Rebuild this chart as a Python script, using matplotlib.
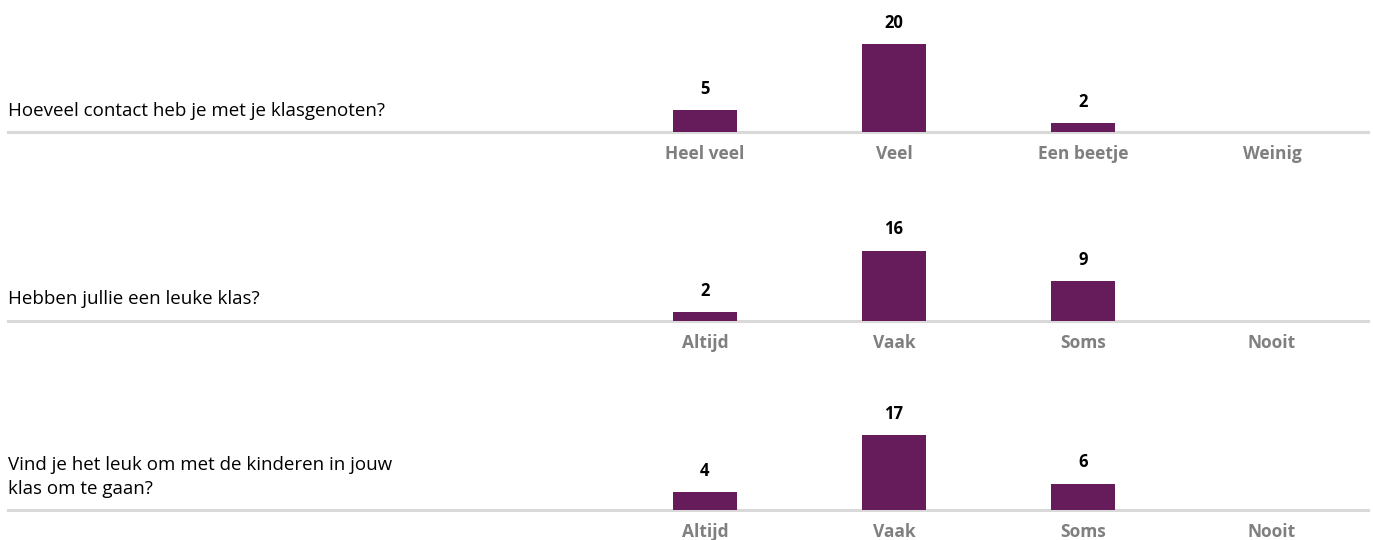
import matplotlib
matplotlib.use("Agg")
import matplotlib.pyplot as plt

# --- DATA ---
questions = [
    "Hoeveel contact heb je met je klasgenoten?",
    "Hebben jullie een leuke klas?",
    "Vind je het leuk om met de kinderen in jouw\nklas om te gaan?",
]
categories_1 = ["Heel veel", "Veel", "Een beetje", "Weinig"]
categories_2 = ["Altijd", "Vaak", "Soms", "Nooit"]
categories_3 = ["Altijd", "Vaak", "Soms", "Nooit"]
values_1 = [5, 20, 2, 0]
values_2 = [2, 16, 9, 0]
values_3 = [4, 17, 6, 0]

rows = [
    (questions[0], categories_1, values_1),
    (questions[1], categories_2, values_2),
    (questions[2], categories_3, values_3),
]

BAR_COLOR = "#661c5a"
LINE_COLOR = "#d9d9d9"
LABEL_COLOR = "#7f7f7f"
plt.rcParams["font.family"] = ["Open Sans", "DejaVu Sans"]

W, H = 1373, 540
fig = plt.figure(figsize=(W / 100, H / 100), dpi=100)

# pixel layout
left_px, right_px = 8, 1368
first_cat_px, cat_step_px = 705, 189
baselines_px = [132, 321, 510]
px_per_unit = 4.4
ymax = 25

x_lo = -(first_cat_px - left_px) / cat_step_px
x_hi = (right_px - first_cat_px) / cat_step_px

for (question, cats, vals), base in zip(rows, baselines_px):
    ax_h = ymax * px_per_unit
    ax = fig.add_axes([left_px / W, (H - base) / H, (right_px - left_px) / W, ax_h / H])
    ax.set_xlim(x_lo, x_hi)
    ax.set_ylim(0, ymax)
    ax.axis("off")

    xs = range(len(cats))
    ax.bar(xs, vals, width=0.34, color=BAR_COLOR, zorder=2)
    ax.axhline(0, color=LINE_COLOR, linewidth=2.2, zorder=1, clip_on=False)

    for x, v, c in zip(xs, vals, cats):
        if v > 0:
            ax.annotate(str(v), (x, v), xytext=(0, 9), textcoords="offset points",
                        ha="center", va="bottom", fontsize=12, fontweight="bold", color="black")
        ax.annotate(c, (x, 0), xytext=(0, -9.5), textcoords="offset points",
                    ha="center", va="top", fontsize=12.5, fontweight="bold", color=LABEL_COLOR,
                    annotation_clip=False)

    ax.annotate(question, (x_lo, 0), xytext=(0, 9), textcoords="offset points",
                ha="left", va="bottom", fontsize=13.5, color="black", linespacing=1.4,
                annotation_clip=False)

fig.savefig("out.png", dpi=100)
